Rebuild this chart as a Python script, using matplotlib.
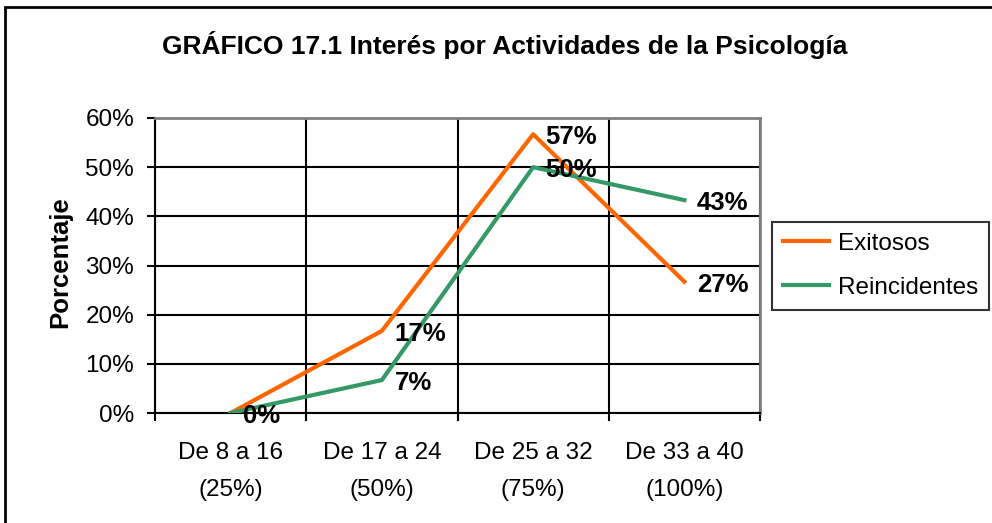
import matplotlib.pyplot as plt
from matplotlib.patches import Rectangle

plt.rcParams['font.family'] = ['Liberation Sans', 'DejaVu Sans']

categorias = ['De 8 a 16\n(25%)', 'De 17 a 24\n(50%)', 'De 25 a 32\n(75%)', 'De 33 a 40\n(100%)']
exitosos = [0.0, 16.7, 56.7, 26.7]
reincidentes = [0.0, 6.7, 50.0, 43.3]
etiquetas_exitosos = ['', '17%', '57%', '27%']
etiquetas_reincidentes = ['0%', '7%', '50%', '43%']
y_ticks = [0, 10, 20, 30, 40, 50, 60]

naranja = '#FF6600'
verde = '#339966'

fig = plt.figure(figsize=(9.92, 5.23), dpi=100)
ax = fig.add_axes([155 / 992, 1 - 413 / 523, 605 / 992, 295 / 523])

# marco exterior del grafico
fig.patches.append(Rectangle((5 / 992, -0.05), 1.1, 1 - 7 / 523 + 0.05,
                             transform=fig.transFigure, fill=False,
                             edgecolor='black', linewidth=2, zorder=0))

x = list(range(len(categorias)))
ax.plot(x, exitosos, color=naranja, linewidth=3, label='Exitosos', zorder=3)
ax.plot(x, reincidentes, color=verde, linewidth=3, label='Reincidentes', zorder=3)

for xi, v, t in zip(x, exitosos, etiquetas_exitosos):
    if t:
        ax.annotate(t, (xi, v), xytext=(9, -2), textcoords='offset points',
                    ha='left', va='center', fontsize=18.5, fontweight='bold', zorder=4)
for xi, v, t in zip(x, reincidentes, etiquetas_reincidentes):
    ax.annotate(t, (xi, v), xytext=(9, -2), textcoords='offset points',
                ha='left', va='center', fontsize=18.5, fontweight='bold', zorder=4)

ax.set_xlim(-0.5, len(categorias) - 0.5)
ax.set_ylim(0, 60)
ax.set_yticks(y_ticks)
ax.set_yticklabels([f'{v}%' for v in y_ticks], fontsize=17.5)
ax.set_xticks(x)
ax.set_xticklabels(categorias, fontsize=17.5, linespacing=1.85)
ax.set_xticks([i - 0.5 for i in range(len(categorias) + 1)], minor=True)
ax.tick_params(axis='x', which='major', length=0, pad=21)
ax.tick_params(axis='x', which='minor', length=6, width=1.5, direction='out')
ax.tick_params(axis='y', length=6, width=1.5, direction='out', pad=9)

ax.grid(True, axis='y', color='black', linewidth=1.5, zorder=1)
ax.grid(True, axis='x', which='minor', color='black', linewidth=1.5, zorder=1)
ax.set_axisbelow(True)
for s in ['top', 'right']:
    ax.spines[s].set_color('#808080')
    ax.spines[s].set_linewidth(2)
for s in ['left', 'bottom']:
    ax.spines[s].set_color('black')
    ax.spines[s].set_linewidth(1.5)

fig.text(505 / 992, 1 - 45 / 523, 'GRÁFICO 17.1 Interés por Actividades de la Psicología',
         ha='center', va='center', fontsize=19, fontweight='bold')
fig.text(60 / 992, 1 - 262 / 523, 'Porcentaje', rotation=90, ha='center', va='center',
         fontsize=18.5, fontweight='bold')

leg = fig.legend(loc='upper left', bbox_to_anchor=(772 / 992, 1 - 222 / 523),
                 fontsize=17.5, frameon=True, fancybox=False, handlelength=1.9,
                 handletextpad=0.35, labelspacing=0.9, borderpad=0.45, borderaxespad=0)
leg.get_frame().set_edgecolor('black')
leg.get_frame().set_linewidth(1.5)

fig.savefig('out.png', dpi=100)
